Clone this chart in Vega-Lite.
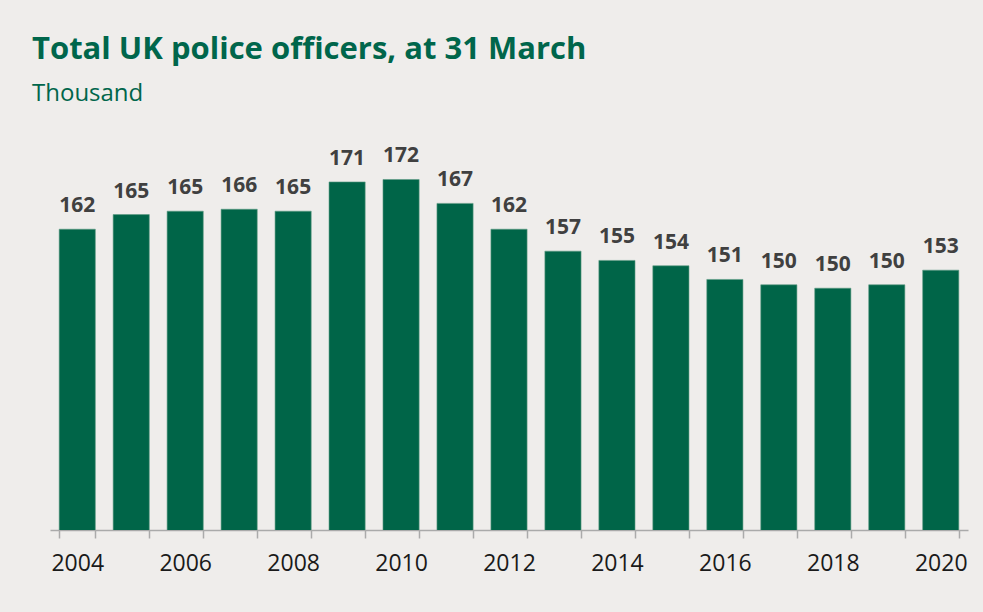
{
  "$schema": "https://vega.github.io/schema/vega-lite/v6.json",
  "width": 918,
  "height": 390,
  "autosize": {"type": "none"},
  "padding": {"left": 50, "top": 140, "right": 15, "bottom": 82},
  "background": "#efedeb",
  "title": {
    "text": "Total UK police officers, at 31 March",
    "subtitle": "Thousand",
    "anchor": "start",
    "frame": "group",
    "dx": -18,
    "offset": 33,
    "font": "Open Sans",
    "fontSize": 31,
    "fontWeight": "bold",
    "color": "#00664b",
    "subtitleFont": "Open Sans",
    "subtitleFontSize": 24,
    "subtitleColor": "#00664b",
    "subtitlePadding": 16
  },
  "data": {
    "values": [
      {"year": "2004", "officers": 161.7},
      {"year": "2005", "officers": 164.7},
      {"year": "2006", "officers": 165.4},
      {"year": "2007", "officers": 165.8},
      {"year": "2008", "officers": 165.4},
      {"year": "2009", "officers": 171.4},
      {"year": "2010", "officers": 171.9},
      {"year": "2011", "officers": 167.0},
      {"year": "2012", "officers": 161.7},
      {"year": "2013", "officers": 157.2},
      {"year": "2014", "officers": 155.3},
      {"year": "2015", "officers": 154.2},
      {"year": "2016", "officers": 151.4},
      {"year": "2017", "officers": 150.3},
      {"year": "2018", "officers": 149.6},
      {"year": "2019", "officers": 150.3},
      {"year": "2020", "officers": 153.3}
    ]
  },
  "encoding": {
    "x": {
      "field": "year",
      "type": "ordinal",
      "scale": {"paddingInner": 0.33, "paddingOuter": 0.17},
      "axis": {
        "title": null,
        "labelAngle": 0,
        "labelExpr": "parseInt(datum.value) % 2 == 0 ? datum.value : ''",
        "labelFont": "Open Sans",
        "labelFontSize": 23,
        "labelColor": "#1a1a1a",
        "labelPadding": 14,
        "tickBand": "extent",
        "tickColor": "#aaaaaa",
        "tickSize": 8,
        "tickWidth": 1.5,
        "domainColor": "#aaaaaa",
        "domainWidth": 1.5
      }
    },
    "y": {
      "field": "officers",
      "type": "quantitative",
      "scale": {"domain": [100, 180], "zero": false},
      "axis": null
    }
  },
  "layer": [
    {
      "mark": {"type": "bar", "color": "#006548", "stroke": "#5f9c84", "strokeWidth": 0.6, "clip": true}
    },
    {
      "mark": {"type": "text", "font": "Open Sans", "fontSize": 21, "fontWeight": "bold", "color": "#404040", "baseline": "alphabetic", "dy": -17},
      "encoding": {
        "text": {"field": "officers", "type": "quantitative", "format": ".0f"}
      }
    }
  ],
  "config": {"view": {"stroke": null}}
}
